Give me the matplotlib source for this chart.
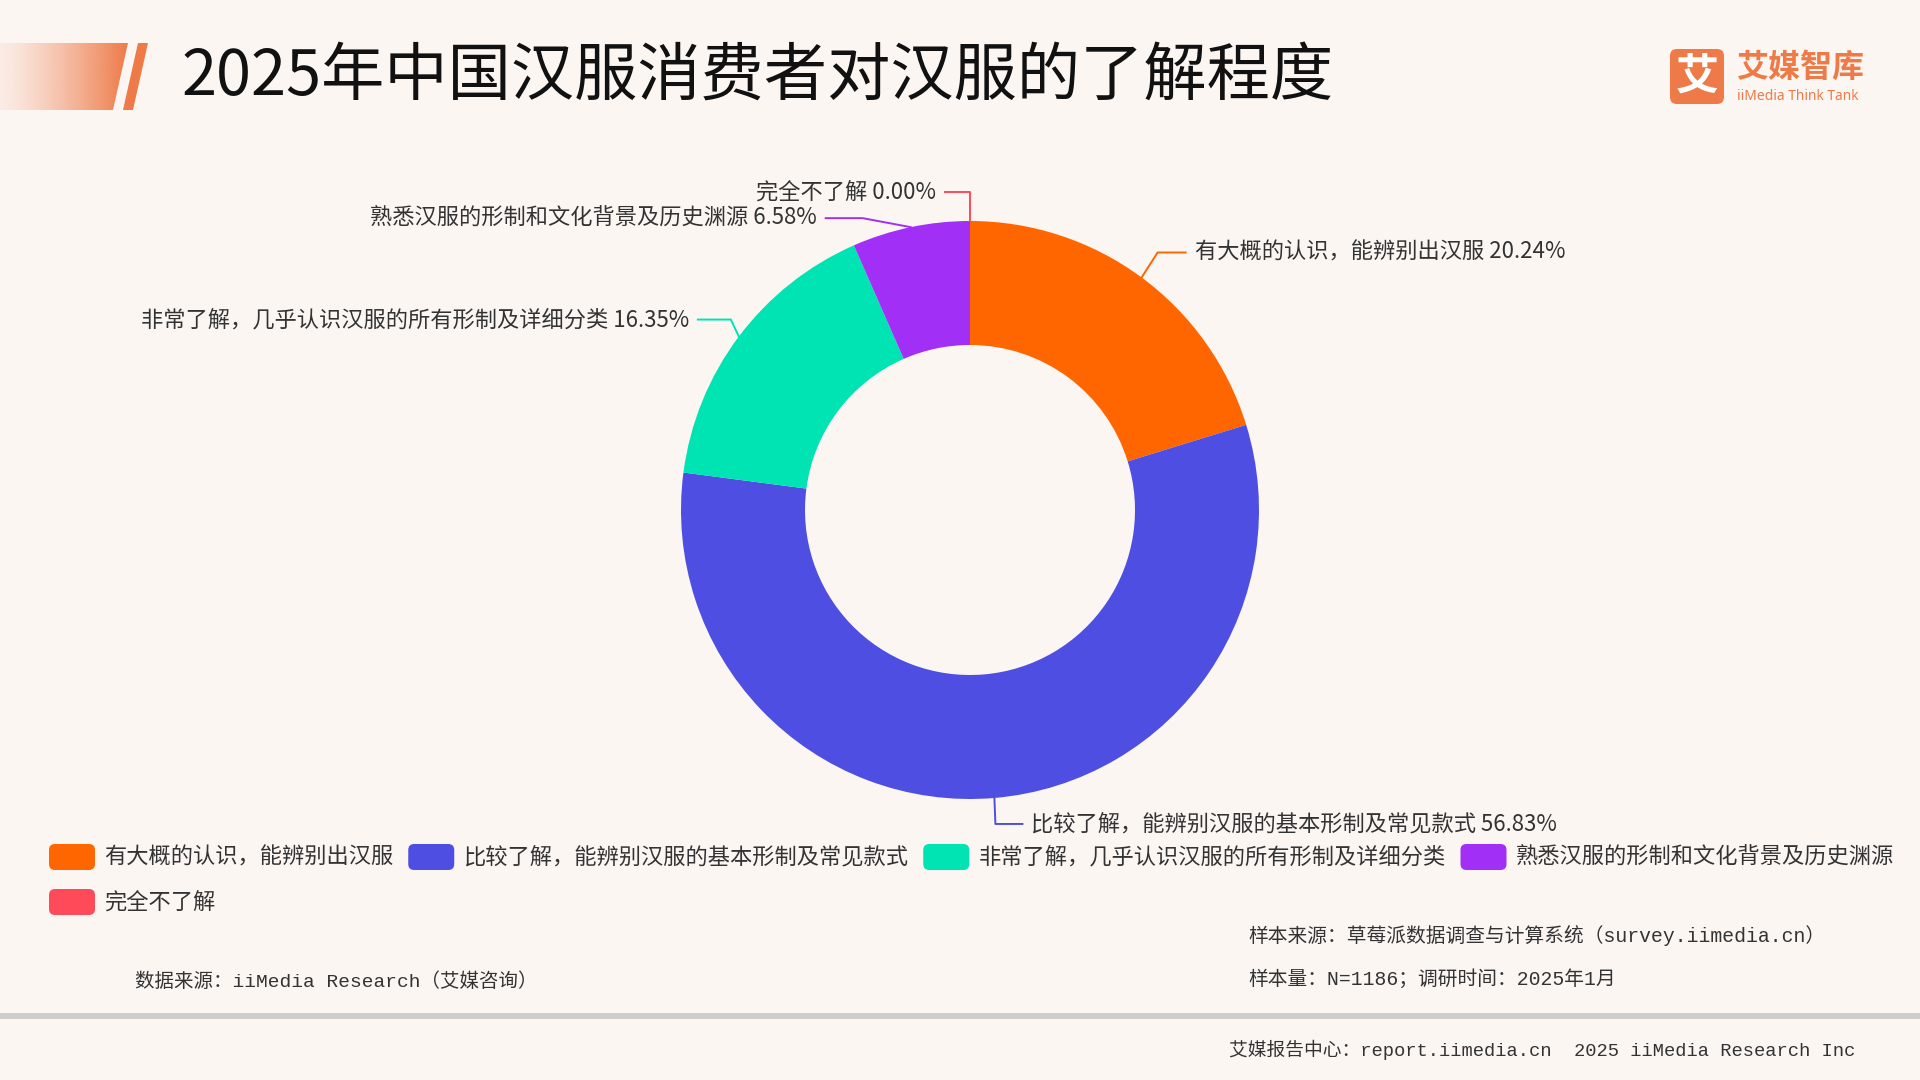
import matplotlib
matplotlib.use('Agg')
import matplotlib.pyplot as plt
import numpy as np
from matplotlib.patches import Polygon, FancyBboxPatch, Rectangle

plt.rcParams['font.family'] = ['Noto Sans CJK SC', 'DejaVu Sans']

# data
categories = ['有大概的认识，能辨别出汉服',
              '比较了解，能辨别汉服的基本形制及常见款式',
              '非常了解，几乎认识汉服的所有形制及详细分类',
              '熟悉汉服的形制和文化背景及历史渊源',
              '完全不了解']
shares = [20.24, 56.83, 16.35, 6.58, 0.00]
colors = ['#FF6600', '#4E4FE2', '#00E3B3', '#A12FF5', '#FF4A5A']

title = '2025年中国汉服消费者对汉服的了解程度'
source_left = '数据来源：iiMedia Research（艾媒咨询）'
sample_src = '样本来源：草莓派数据调查与计算系统（survey.iimedia.cn）'
sample_n = '样本量：N=1186；调研时间：2025年1月'
footer = '艾媒报告中心：report.iimedia.cn  2025 iiMedia Research Inc'

BG = '#FCF6F3'
ACCENT = '#EE7A48'
TXT = '#333333'
MONO = ['Liberation Mono', 'Noto Sans CJK SC']
FS = 16

fig = plt.figure(figsize=(19.2, 10.8), dpi=100, facecolor=BG)
# one axes over the whole figure, in pixels, y going down
ax = fig.add_axes([0, 0, 1, 1])

cx, cy, r_out, r_in = 970, 510, 289, 165
# y axis is flipped, so start at -90 and go "counterclock" to look clockwise from the top
wedges, _ = ax.pie(shares, colors=colors, startangle=-90, counterclock=True,
                   radius=r_out, center=(cx, cy),
                   wedgeprops=dict(width=r_out - r_in, linewidth=0))
ax.set_xlim(0, 1920)
ax.set_ylim(1080, 0)
ax.set_aspect('auto')
ax.axis('off')
ax.set_facecolor(BG)

# title bar decoration
grad = np.linspace(0, 1, 256) ** 1.3
rgba = np.zeros((1, 256, 4))
rgba[..., :3] = matplotlib.colors.to_rgb(ACCENT)
rgba[..., 3] = 0.08 + 0.92 * grad
im = ax.imshow(rgba, extent=(0, 128, 110, 43), aspect='auto', zorder=2)
bar = Polygon([(0, 43), (128, 43), (113, 110), (0, 110)], closed=True,
              facecolor='none', edgecolor='none')
ax.add_patch(bar)
im.set_clip_path(bar)
ax.add_patch(Polygon([(138, 43), (148, 43), (133, 110), (123, 110)], closed=True,
                     facecolor=ACCENT, edgecolor='none', zorder=2))
ax.text(181, 77, title, fontsize=45.5, color='#111111', va='center', ha='left')

# logo
ax.add_patch(FancyBboxPatch((1670, 49), 54, 55, boxstyle='round,pad=0,rounding_size=7',
                            facecolor=ACCENT, edgecolor='none', zorder=3))
ax.text(1697, 77, '艾', fontsize=31, fontweight='bold', color='white',
        ha='center', va='center', zorder=4)
ax.text(1736, 68, '艾媒智库', fontsize=23, fontweight='bold', color=ACCENT,
        ha='left', va='center')
ax.text(1737, 97, 'iiMedia Think Tank', fontsize=10, fontweight='bold', color=ACCENT,
        ha='left', va='center', family=['Noto Sans', 'DejaVu Sans'])

# leader lines + labels: (dx, dy) to the elbow, then horizontal run
label_layout = [(16, -25, 28), (1, 26, 27), (-8, -17, -33), (-48, -9, -37), (0, -29, -25)]
for w, cat, val, col, (dx, dy, run) in zip(wedges, categories, shares, colors, label_layout):
    ang = np.deg2rad((w.theta1 + w.theta2) / 2)
    sx, sy = cx + r_out * np.cos(ang), cy + r_out * np.sin(ang)
    ex, ey = sx + dx, sy + dy
    ax.plot([sx, ex, ex + run], [sy, ey, ey], color=col, lw=1.4, zorder=1)
    side = 1 if run > 0 else -1
    ax.text(ex + run + 9 * side, ey, f'{cat} {val:.2f}%', fontsize=FS, color=TXT,
            ha='left' if side > 0 else 'right', va='center')

# legend, flowing left to right like the original
renderer = fig.canvas.get_renderer()
lx, ly = 49, 857
for cat, col in zip(categories, colors):
    t = ax.text(0, 0, cat, fontsize=FS, color=TXT, va='center', ha='left')
    tw = t.get_window_extent(renderer).width
    if lx + 46 + 9 + tw > 1905:
        lx, ly = 49, ly + 45
    ax.add_patch(FancyBboxPatch((lx, ly - 13), 46, 26, boxstyle='round,pad=0,rounding_size=6',
                                facecolor=col, edgecolor='none'))
    t.set_position((lx + 55, ly))
    lx += 55 + tw + 15

# notes and footer
ax.text(135, 982, source_left, fontsize=14, color=TXT, va='center', family=MONO)
ax.text(1248, 936, sample_src, fontsize=14.2, color=TXT, va='center', family=MONO)
ax.text(1248, 979, sample_n, fontsize=14.2, color=TXT, va='center', family=MONO)
ax.add_patch(Rectangle((0, 1013), 1920, 6, facecolor='#CFCDCC', edgecolor='none'))
ax.text(1229, 1050, footer, fontsize=13.5, color=TXT, va='center', family=MONO)

fig.savefig('out.png', dpi=100, facecolor=BG)
